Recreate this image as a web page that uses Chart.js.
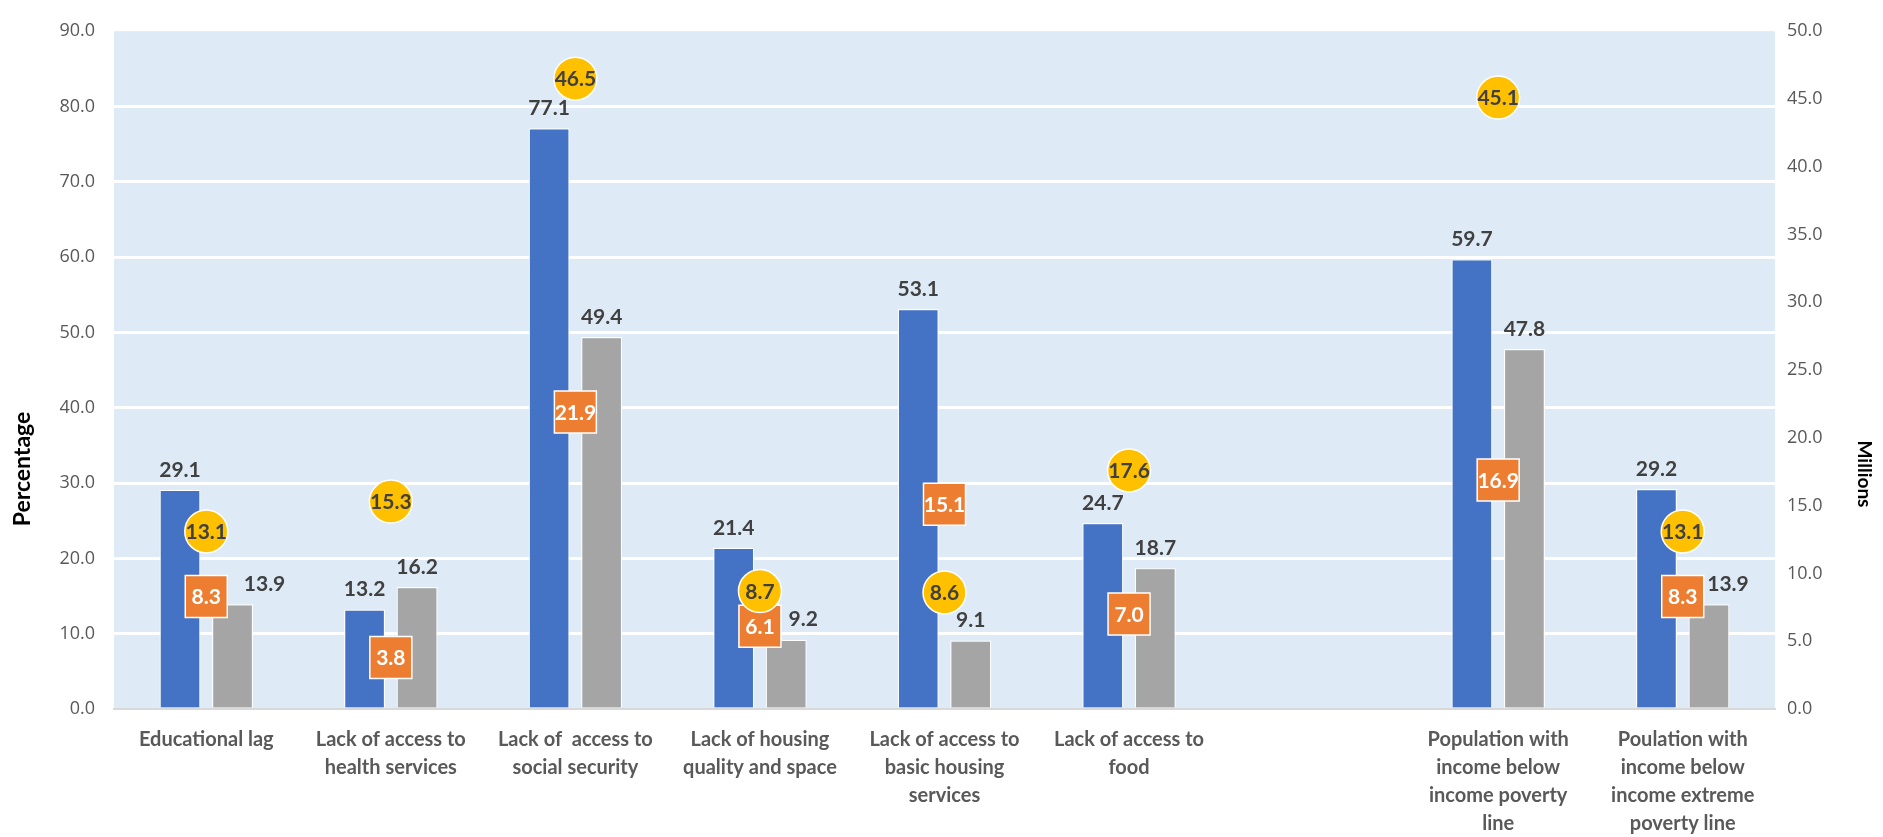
<!DOCTYPE html>
<html>
<head>
<meta charset="utf-8">
<script src="https://cdn.jsdelivr.net/npm/chart.js@4"></script>
<style>
  html, body { margin: 0; padding: 0; background: #ffffff; }
  #wrap { width: 1883px; height: 837px; position: relative; }
</style>
</head>
<body>
<div id="wrap"><canvas id="c"></canvas></div>
<script>
// ---- Data ----
const categories = [
  "Educational lag",
  ["Lack of access to", "health services"],
  ["Lack of  access to", "social security"],
  ["Lack of housing", "quality and space"],
  ["Lack of access to", "basic housing", "services"],
  ["Lack of access to", "food"],
  "",
  ["Population with", "income below", "income poverty", "line"],
  ["Poulation with", "income below", "income extreme", "poverty line"]
];
const percentBlue = [29.1, 13.2, 77.1, 21.4, 53.1, 24.7, null, 59.7, 29.2];
const percentGray = [13.9, 16.2, 49.4, 9.2, 9.1, 18.7, null, 47.8, 13.9];
const millionsOrange = [8.3, 3.8, 21.9, 6.1, 15.1, 7.0, null, 16.9, 8.3];
const millionsYellow = [13.1, 15.3, 46.5, 8.7, 8.6, 17.6, null, 45.1, 13.1];
const leftTicks = { min: 0, max: 90, step: 10 };
const rightTicks = { min: 0, max: 50, step: 5 };
const leftTitle = "Percentage";
const rightTitle = "Millions";

// ---- Styling ----
const FONT = "Lato, 'Open Sans', sans-serif";
const TICKFONT = "'Open Sans', sans-serif";
const grayLabelNudge = { 0: 32, 3: 17, 8: 19 };

const bgPlugin = {
  id: 'plotBg',
  beforeDraw(chart) {
    const { ctx, chartArea: a } = chart;
    ctx.save();
    ctx.fillStyle = '#DEEAF6';
    ctx.fillRect(a.left, a.top, a.right - a.left, a.bottom - a.top);
    ctx.restore();
  }
};

const labelPlugin = {
  id: 'valueLabels',
  afterDatasetDraw(chart, args) {
    const { ctx } = chart;
    const ds = chart.data.datasets[args.index];
    const meta = args.meta;
    ctx.save();
    ctx.textAlign = 'center';
    ctx.textBaseline = 'middle';
    meta.data.forEach((el, i) => {
      const v = ds.data[i];
      if (v === null || v === undefined) return;
      const txt = v.toFixed(1);
      if (ds.type === 'bar') {
        ctx.font = "bold 21px " + FONT;
        ctx.fillStyle = '#404040';
        let dx = 0;
        if (ds.kind === 'gray' && grayLabelNudge[i]) dx = grayLabelNudge[i];
        ctx.fillText(txt, el.x + dx, el.y - 20);
      } else {
        ctx.font = "bold 21px " + FONT;
        ctx.fillStyle = ds.kind === 'orange' ? '#FFFFFF' : '#404040';
        ctx.fillText(txt, el.x, el.y + 1);
      }
    });
    ctx.restore();
  }
};

const titlePlugin = {
  id: 'axisTitles',
  afterDraw(chart) {
    const { ctx, chartArea: a } = chart;
    ctx.save();
    ctx.fillStyle = '#000000';
    ctx.textAlign = 'center';
    ctx.textBaseline = 'middle';
    ctx.font = "bold 23px " + FONT;
    ctx.translate(23, a.bottom - 240);
    ctx.rotate(-Math.PI / 2);
    ctx.fillText(leftTitle, 0, 0);
    ctx.restore();
    ctx.save();
    ctx.fillStyle = '#000000';
    ctx.textAlign = 'center';
    ctx.textBaseline = 'middle';
    ctx.font = "bold 19px " + FONT;
    ctx.translate(1864, a.bottom - 235);
    ctx.rotate(Math.PI / 2);
    ctx.fillText(rightTitle, 0, 0);
    ctx.restore();
  }
};

new Chart(document.getElementById('c'), {
  data: {
    labels: categories,
    datasets: [
      {
        type: 'line', kind: 'yellow', label: 'Yellow', data: millionsYellow, yAxisID: 'y2',
        showLine: false, pointStyle: 'circle', pointRadius: 21.5, pointHoverRadius: 21.5,
        pointBackgroundColor: '#FFC000', pointBorderColor: '#FFFFFF', pointBorderWidth: 1.5, order: 0
      },
      {
        type: 'line', kind: 'orange', label: 'Orange', data: millionsOrange, yAxisID: 'y2',
        showLine: false, pointStyle: 'rect', pointRadius: 29.7, pointHoverRadius: 29.7,
        pointBackgroundColor: '#ED7D31', pointBorderColor: '#FFFFFF', pointBorderWidth: 1.5, order: 1
      },
      {
        type: 'bar', kind: 'blue', label: 'Blue', data: percentBlue, yAxisID: 'y',
        backgroundColor: '#4472C4', borderColor: '#FFFFFF', borderWidth: 1.2, order: 2,
        categoryPercentage: 0.569, barPercentage: 0.78
      },
      {
        type: 'bar', kind: 'gray', label: 'Gray', data: percentGray, yAxisID: 'y',
        backgroundColor: '#A5A5A5', borderColor: '#FFFFFF', borderWidth: 1.2, order: 3,
        categoryPercentage: 0.569, barPercentage: 0.78
      }
    ]
  },
  options: {
    responsive: true,
    maintainAspectRatio: false,
    animation: false,
    devicePixelRatio: 1,
    layout: { padding: { top: 17, left: 0, right: 0, bottom: 0 } },
    plugins: { legend: { display: false }, tooltip: { enabled: false } },
    scales: {
      x: {
        type: 'category',
        offset: true,
        grid: { display: false, drawTicks: false },
        border: { display: true, color: '#D9D9D9', width: 2 },
        ticks: {
          color: '#595959', padding: 17, maxRotation: 0, minRotation: 0, autoSkip: false,
          font: { family: FONT, size: 20, weight: 'bold', lineHeight: 1.4 }
        },
        afterFit(s) { s.height = 128; }
      },
      y: {
        position: 'left',
        min: leftTicks.min, max: leftTicks.max,
        border: { display: false },
        grid: {
          drawTicks: false,
          lineWidth: 3,
          color: (c) => (c.tick && (c.tick.value === leftTicks.max || c.tick.value === leftTicks.min)) ? 'rgba(0,0,0,0)' : '#FFFFFF'
        },
        ticks: {
          stepSize: leftTicks.step, padding: 19, color: '#595959',
          font: { family: TICKFONT, size: 18 },
          callback: (v) => Number(v).toFixed(1)
        },
        afterFit(s) { s.width = 114; }
      },
      y2: {
        position: 'right',
        min: rightTicks.min, max: rightTicks.max,
        border: { display: false },
        grid: { display: false, drawTicks: false, drawOnChartArea: false },
        ticks: {
          stepSize: rightTicks.step, padding: 12, color: '#595959',
          font: { family: TICKFONT, size: 18 },
          callback: (v) => Number(v).toFixed(1)
        },
        afterFit(s) { s.width = 108; }
      }
    }
  },
  plugins: [bgPlugin, labelPlugin, titlePlugin]
});
</script>
</body>
</html>
